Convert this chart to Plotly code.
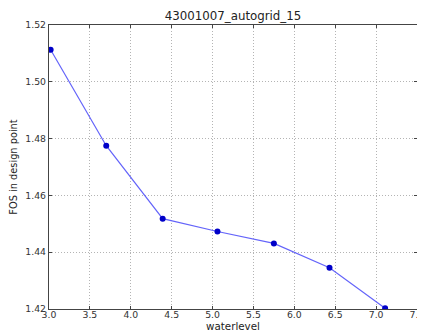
import plotly.graph_objects as go

waterlevel = [3.02, 3.70, 4.39, 5.06, 5.75, 6.43, 7.11]
fos = [1.5113, 1.4775, 1.4518, 1.4473, 1.4431, 1.4345, 1.4203]

x_ticks = [3.0, 3.5, 4.0, 4.5, 5.0, 5.5, 6.0, 6.5, 7.0, 7.5]
y_ticks = [1.42, 1.44, 1.46, 1.48, 1.50, 1.52]

fig = go.Figure()
fig.add_trace(go.Scatter(
    x=waterlevel, y=fos, mode="lines+markers",
    line=dict(color="rgb(100,100,250)", width=1.2),
    marker=dict(color="#0000c8", size=6),
    cliponaxis=True, showlegend=False,
))

font = "DejaVu Sans, sans-serif"
axis_common = dict(
    showline=True, linecolor="#444444", linewidth=1.2, mirror="ticks",
    ticks="inside", ticklen=3, tickcolor="#444444",
    showgrid=True, gridcolor="#b4b4b4", griddash="1px,2px", gridwidth=1,
    zeroline=False, automargin=False,
    tickfont=dict(family=font, size=9.3, color="#333333"),
)

# page body has an 8px default margin, so the figure is sized to fit the window
fig.update_layout(
    width=417, height=325,
    margin=dict(l=41, r=8, t=17, b=24),
    paper_bgcolor="white", plot_bgcolor="white",
    title=dict(text="43001007_autogrid_15", x=0.5, xref="paper", xanchor="center",
               y=0.975, yanchor="middle",
               font=dict(family=font, size=11.8, color="#222222")),
    xaxis=dict(range=[3.0, 7.5], tickvals=x_ticks,
               ticktext=[f"{v:.1f}" for v in x_ticks],
               ticklabelstandoff=-3,
               title=dict(text="waterlevel", standoff=3,
                          font=dict(family=font, size=10.3, color="#222222")),
               **axis_common),
    yaxis=dict(range=[1.42, 1.52], tickvals=y_ticks,
               ticktext=[f"{v:.2f}" for v in y_ticks],
               title=dict(text="FOS in design point", standoff=5,
                          font=dict(family=font, size=9.8, color="#222222")),
               **axis_common),
)

fig.write_html("out.html")
